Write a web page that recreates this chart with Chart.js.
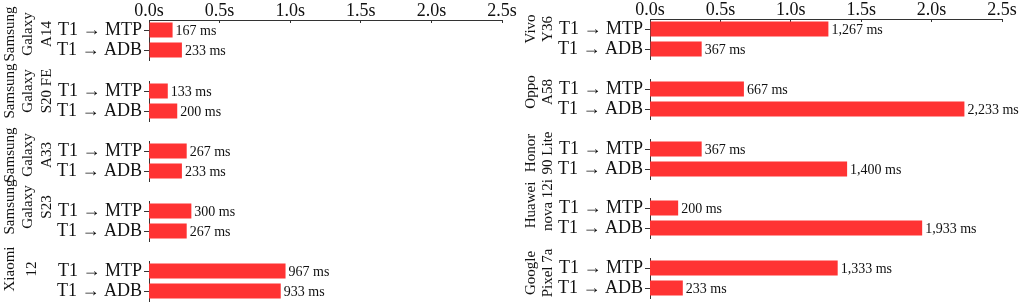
<!DOCTYPE html>
<html><head><meta charset="utf-8">
<script src="https://cdn.jsdelivr.net/npm/chart.js@4/dist/chart.umd.min.js"></script>
<style>
html,body{margin:0;padding:0;background:#fff;width:1024px;height:303px;overflow:hidden;position:relative}
canvas{position:absolute}
</style></head><body>
<script>
// ---- data ----
const devices = [
  ["Samsung","Galaxy","A14"],
  ["Samsung","Galaxy","S20 FE"],
  ["Samsung","Galaxy","A33"],
  ["Samsung","Galaxy","S23"],
  ["Xiaomi","12"],
  ["Vivo","Y36"],
  ["Oppo","A58"],
  ["Honor","90 Lite"],
  ["Huawei","nova 12i"],
  ["Google","Pixel 7a"]
];
const routes = ["T1 → MTP","T1 → ADB"];
const mtpMs = [167,133,267,300,967,1267,667,367,200,1333];
const adbMs = [233,200,233,267,933,367,2233,1400,1933,233];
const xTickLabels = ["0.0s","0.5s","1.0s","1.5s","2.0s","2.5s"];

// ---- styles / layout ----
const BAR = 'rgb(255,51,51)';
const AXIS = '#333';
const TEXT = '#111';
const FONT = '"Liberation Serif", "DejaVu Serif", serif';
const PAD = 22, PLOT_H = 40;
const columns = [
  {left:0,   width:520, axisW:149, padR:18, tops:[20,81,141,201,261], labelX:10},
  {left:505, width:519, axisW:145, padR:22, tops:[19,79,139,198,258], labelX:26}
];
// vertical offset of each rotated device label from its panel centre, and line step
const labelShifts = [-6,-10,-6,-14,-12,-10,-7,-6,-13,-5];
const labelSteps  = [18.5,18.5,18.5,18.5,22,17.5,17.5,17.5,17.5,17.5];

Chart.defaults.font.family = FONT;
Chart.defaults.color = TEXT;

const deviceLabelPlugin = {
  id:'deviceLabel',
  afterDraw(chart, args, opts){
    if (!opts || !opts.lines) return;
    const ctx = chart.ctx, a = chart.chartArea;
    const cy = (a.top + a.bottom)/2 + opts.shift;
    ctx.save();
    ctx.font = '15px ' + FONT;
    ctx.fillStyle = TEXT;
    ctx.textAlign = 'center';
    ctx.textBaseline = 'middle';
    opts.lines.forEach((ln, j) => {
      ctx.save();
      ctx.translate(opts.x + j*opts.step, cy);
      ctx.rotate(-Math.PI/2);
      ctx.fillText(ln, 0, 0);
      ctx.restore();
    });
    ctx.restore();
  }
};
const valueLabelPlugin = {
  id:'valueLabel',
  afterDatasetsDraw(chart){
    const ctx = chart.ctx;
    const ds = chart.data.datasets[0];
    const meta = chart.getDatasetMeta(0);
    ctx.save();
    ctx.font = '14px ' + FONT;
    ctx.fillStyle = TEXT;
    ctx.textAlign = 'left';
    ctx.textBaseline = 'middle';
    meta.data.forEach((bar, j) => {
      ctx.fillText(ds.ms[j].toLocaleString('en-US') + ' ms', bar.x + 3, bar.y + 1);
    });
    ctx.restore();
  }
};
Chart.register(deviceLabelPlugin, valueLabelPlugin);

function makePanel(i){
  const c = columns[i < 5 ? 0 : 1], k = i % 5, T = c.tops[k];
  const first = k === 0;
  const top = first ? 0 : T - PAD;
  const h = (T - top) + PLOT_H + PAD;
  const cv = document.createElement('canvas');
  cv.width = c.width; cv.height = h;
  cv.style.left = c.left + 'px'; cv.style.top = top + 'px';
  cv.style.width = c.width + 'px'; cv.style.height = h + 'px';
  document.body.appendChild(cv);
  const xScale = {
    type:'linear', position:'top', min:0, max:2.5, display:first,
    grid:{display:true, drawOnChartArea:false, drawTicks:true, tickLength:-3, color:AXIS},
    border:{display:true, color:AXIS, width:1},
    ticks:{stepSize:0.5, autoSkip:false, maxRotation:0, padding:3, color:TEXT,
           font:{size:18, lineHeight:1},
           callback:(v, idx) => xTickLabels[idx]}
  };
  if (first) xScale.afterFit = s => { s.height = T; };
  new Chart(cv, {
    type:'bar',
    data:{
      labels:routes,
      datasets:[{
        data:[mtpMs[i]/1000, adbMs[i]/1000],
        ms:[mtpMs[i], adbMs[i]],
        backgroundColor:BAR, borderWidth:0,
        barPercentage:0.75, categoryPercentage:1
      }]
    },
    options:{
      indexAxis:'y', responsive:false, animation:false, devicePixelRatio:1,
      layout:{padding:{left:0, right:c.padR, top:first ? 0 : PAD, bottom:PAD}},
      plugins:{
        legend:{display:false}, tooltip:{enabled:false}, title:{display:false},
        deviceLabel:{lines:devices[i], x:c.labelX, step:labelSteps[i], shift:labelShifts[i]}
      },
      scales:{
        x:xScale,
        y:{
          position:'left',
          afterFit: s => { s.width = c.axisW; },
          grid:{display:true, offset:false, drawOnChartArea:false, drawTicks:true, tickLength:5, color:AXIS},
          border:{display:true, color:AXIS, width:1},
          ticks:{padding:2, autoSkip:false, color:TEXT, font:{size:18, lineHeight:1}}
        }
      }
    }
  });
}
for (let i = 0; i < devices.length; i++) makePanel(i);
</script>
</body></html>
